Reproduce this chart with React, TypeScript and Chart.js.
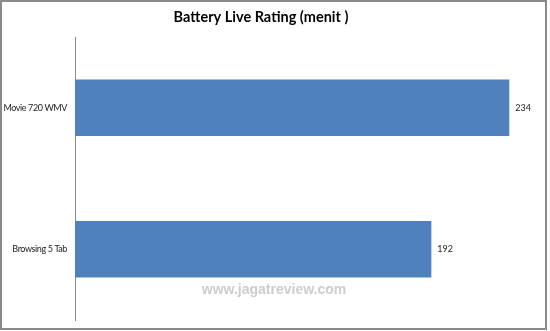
import React, { useEffect, useRef } from "react";
import { Chart, registerables } from "chart.js";

Chart.register(...registerables);

const categories = ["Movie 720 WMV", "Browsing 5 Tab"];
const values = [234, 192];
const titleText = "Battery Live Rating (menit )";
const watermarkText = "www.jagatreview.com";

const overlayPlugin = {
  id: "overlay",
  afterDatasetsDraw(chart: any) {
    const ctx = chart.ctx as CanvasRenderingContext2D;
    const meta = chart.getDatasetMeta(0);
    const yScale = chart.scales.y;
    ctx.save();
    // category labels
    ctx.fillStyle = "#222";
    ctx.font = "9px Lato, sans-serif";
    (ctx as any).letterSpacing = "-0.4px";
    ctx.textAlign = "right";
    ctx.textBaseline = "middle";
    categories.forEach((c, i) => {
      ctx.fillText(c, yScale.right - 8, yScale.getPixelForValue(i));
    });
    // data labels
    ctx.textAlign = "left";
    (ctx as any).letterSpacing = "0px";
    meta.data.forEach((bar: any, i: number) => {
      ctx.fillText(String(values[i]), bar.x + 6, bar.y);
    });
    // watermark
    ctx.fillStyle = "rgba(200,200,200,0.9)";
    ctx.font = "bold 14px 'Liberation Sans', Arial, sans-serif";
    ctx.textAlign = "center";
    ctx.fillText(watermarkText, 274, 290);
    ctx.restore();
  },
  afterDraw(chart: any) {
    const ctx = chart.ctx as CanvasRenderingContext2D;
    ctx.save();
    ctx.fillStyle = "#000";
    ctx.font = "bold 14.5px Lato, sans-serif";
    ctx.textAlign = "center";
    ctx.textBaseline = "middle";
    ctx.fillText(titleText, 261, 17);
    ctx.strokeStyle = "#8a8a8a";
    ctx.lineWidth = 2;
    ctx.strokeRect(1, 1, 545, 328);
    ctx.restore();
  },
};

export default function App() {
  const ref = useRef<HTMLCanvasElement>(null);
  useEffect(() => {
    document.body.style.margin = "0";
    const chart = new Chart(ref.current!, {
      type: "bar",
      data: {
        labels: categories,
        datasets: [
          {
            data: values,
            backgroundColor: "#4f81bd",
            borderWidth: 0,
            categoryPercentage: 0.4,
            barPercentage: 1,
          },
        ],
      },
      options: {
        indexAxis: "y",
        animation: false,
        responsive: false,
        maintainAspectRatio: false,
        layout: { padding: { left: 0, right: 11, top: 37, bottom: 11 } },
        plugins: {
          legend: { display: false },
          title: { display: false },
          tooltip: { enabled: false },
        },
        scales: {
          x: { display: false, min: 0, max: 250 },
          y: {
            grid: { display: false, drawTicks: false },
            border: { display: true, color: "#8c8c8c", width: 1 },
            ticks: { display: false },
            afterFit(scale: any) {
              scale.width = 75;
            },
          },
        },
      },
      plugins: [overlayPlugin],
    });
    return () => chart.destroy();
  }, []);
  return (
    <div style={{ width: 550, height: 331, background: "#fff" }}>
      <canvas ref={ref} width={550} height={331} style={{ display: "block" }} />
    </div>
  );
}
